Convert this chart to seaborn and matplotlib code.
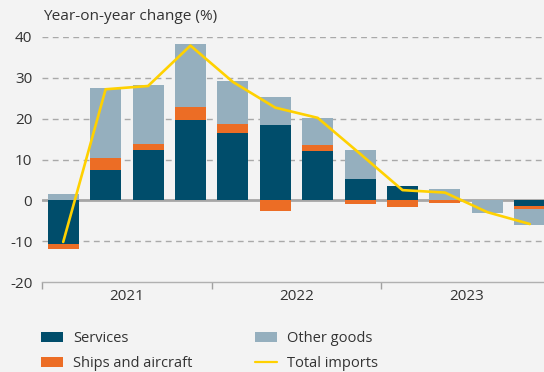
import numpy as np
import pandas as pd
import matplotlib
matplotlib.use("Agg")
import matplotlib.pyplot as plt
from matplotlib.patches import Patch
from matplotlib.lines import Line2D
import seaborn as sns

# Quarterly contributions to year-on-year import growth (percentage points)
quarters = ["2021Q1", "2021Q2", "2021Q3", "2021Q4",
            "2022Q1", "2022Q2", "2022Q3", "2022Q4",
            "2023Q1", "2023Q2", "2023Q3", "2023Q4"]
services = [-10.6, 7.4, 12.3, 19.6, 16.4, 18.4, 12.0, 5.2, 3.4, 0.0, 0.0, -1.3]
ships_aircraft = [-1.4, 2.9, 1.4, 3.2, 2.2, -2.5, 1.5, -0.9, -1.6, -0.7, 0.2, -0.7]
other_goods = [1.5, 17.1, 14.5, 15.6, 10.6, 6.9, 6.6, 7.1, 0.0, 2.7, -3.0, -4.1]
total_imports = [-10.2, 27.2, 28.0, 37.9, 29.0, 22.7, 20.2, 11.4, 2.5, 1.9, -2.9, -5.8]
years = ["2021", "2022", "2023"]

series = [
    ("Services", services, "#004d6b"),
    ("Ships and aircraft", ships_aircraft, "#ec6d25"),
    ("Other goods", other_goods, "#95afbe"),
]
line_color = "#ffd100"
bg = "#f3f3f3"
text_color = "#333333"

sns.set_theme(style="white")
plt.rcParams["font.family"] = ["Open Sans", "DejaVu Sans"]
plt.rcParams["font.size"] = 10.5

W, H = 544, 372
fig = plt.figure(figsize=(W / 100, H / 100), dpi=100, facecolor=bg)
ax = fig.add_axes([42 / W, 1 - 282 / H, 509 / W, 245 / H])
ax.set_facecolor(bg)

x = np.arange(len(quarters))
pos_base = np.zeros(len(quarters))
neg_base = np.zeros(len(quarters))
for name, vals, color in series:
    v = np.array(vals, dtype=float)
    bottom = np.where(v >= 0, pos_base, neg_base)
    df = pd.DataFrame({"x": x, "y": v})
    sns.barplot(data=df, x="x", y="y", color=color, saturation=1,
                width=0.73, bottom=bottom, ax=ax, zorder=3, linewidth=0)
    pos_base = pos_base + np.where(v >= 0, v, 0)
    neg_base = neg_base + np.where(v < 0, v, 0)

sns.lineplot(x=x, y=total_imports, color=line_color, linewidth=1.9,
             ax=ax, zorder=4)

ax.set_xlim(-0.5, 11.5)
ax.set_ylim(-20, 40)

# Horizontal reference lines
for yv in [10, 20, 30, 40, -10]:
    ax.axhline(yv, color="#a9a9a9", linewidth=1.0, linestyle=(0, (4.2, 3.2)),
               zorder=1)
ax.axhline(0, color="#a6a6a6", linewidth=2.0, zorder=2)

ax.set_yticks([-20, -10, 0, 10, 20, 30, 40])
ax.set_yticklabels(["-20", "-10", "0", "10", "20", "30", "40"])
ax.tick_params(axis="y", length=0, pad=7, labelsize=11, labelcolor=text_color)

# Year boundaries as major ticks, year names as minor tick labels
ax.set_xticks([-0.5, 3.5, 7.5])
ax.set_xticklabels([])
ax.set_xticks([1.5, 5.5, 9.5], minor=True)
ax.set_xticklabels(years, minor=True)
ax.tick_params(axis="x", which="major", length=5, width=1, color="#a0a0a0",
               direction="out", bottom=True)
ax.tick_params(axis="x", which="minor", length=0, pad=5, labelsize=11,
               labelcolor=text_color)
ax.set_xlabel("")
ax.set_ylabel("")

for side in ["top", "right", "left"]:
    ax.spines[side].set_visible(False)
ax.spines["bottom"].set_color("#b0b0b0")
ax.spines["bottom"].set_linewidth(1.0)
ax.spines["bottom"].set_position(("data", -20))

fig.text(43 / W, 1 - 17 / H, "Year-on-year change (%)", ha="left", va="center",
         fontsize=11.1, color=text_color)

handles = [
    Patch(facecolor=series[0][2], edgecolor="none", label="Services"),
    Patch(facecolor=series[1][2], edgecolor="none", label="Ships and aircraft"),
    Patch(facecolor=series[2][2], edgecolor="none", label="Other goods"),
    Line2D([0], [0], color=line_color, linewidth=1.6, label="Total imports"),
]
leg = fig.legend(handles=handles, ncol=2, loc="upper left",
                 bbox_to_anchor=(41 / W, 1 - 331 / H), frameon=False,
                 fontsize=10.5, handlelength=1.5, handleheight=0.62,
                 handletextpad=0.7, columnspacing=4.3, labelspacing=0.68,
                 borderpad=0, borderaxespad=0)
for t in leg.get_texts():
    t.set_color(text_color)

fig.savefig("out.png", dpi=100, facecolor=bg)
